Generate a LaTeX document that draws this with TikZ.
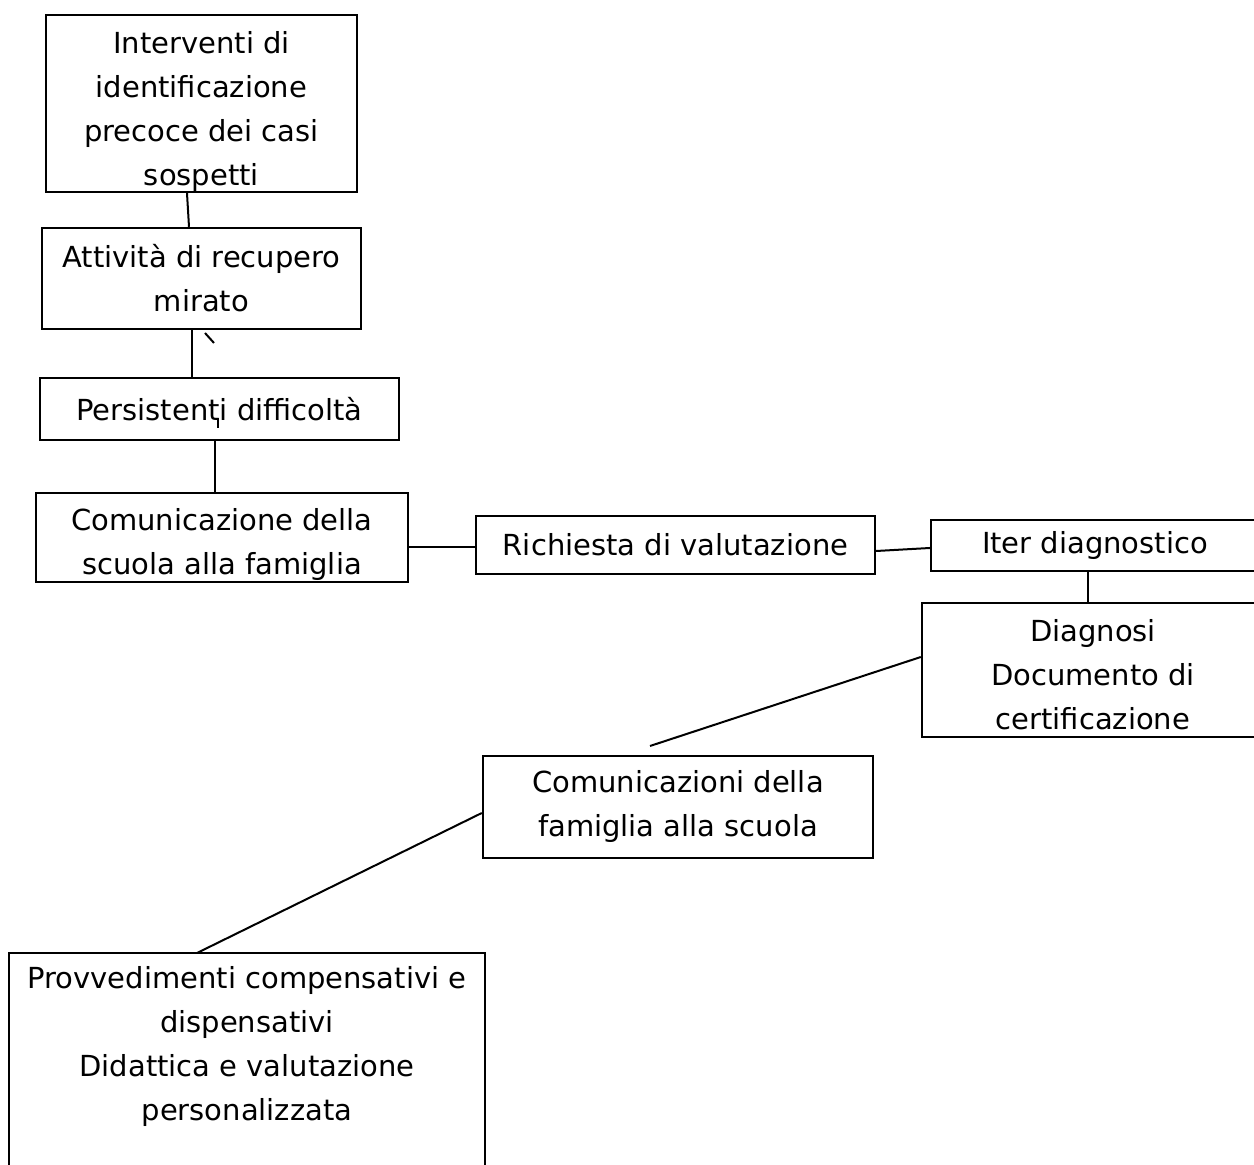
\documentclass[tikz,border=0pt]{standalone}
\usepackage{fontspec}
\setmainfont{DejaVu Sans}
\usetikzlibrary{positioning,calc}

\begin{document}
\begin{tikzpicture}[x=0.5pt,y=-0.5pt,
  box/.style={draw,line width=1.2pt,align=center,inner sep=0pt,
    font=\fontsize{14.5}{22}\selectfont},
  link/.style={line width=1pt}]
\useasboundingbox (0,0) rectangle (1254,1165);
\clip (0,0) rectangle (1254,1165);
% boxes
\node[box,minimum width=155.5pt,minimum height=88.5pt] (interv) at (201.5,103.5)
  {\rule{0pt}{19pt}Interventi di\\identificazione\\precoce dei casi\\sospetti};
\node[box,minimum width=159.5pt,minimum height=50.5pt] (attiv) at (201.5,278.5)
  {Attività di recupero\\mirato};
\node[box,minimum width=179.5pt,minimum height=31pt] (persist) at (219.5,409)
  {Persistenti difficoltà};
\node[box,minimum width=186pt,minimum height=44.5pt] (scuolafam) at (222,537.5)
  {\rule{0pt}{18pt}Comunicazione della\\scuola alla famiglia};
\node[box,minimum width=199.5pt,minimum height=29pt] (richiesta) at (675.5,545)
  {Richiesta di valutazione};
\node[box,minimum width=164pt,minimum height=25.5pt] (iter) at (1095,545.5)
  {Iter diagnostico};
\node[box,minimum width=171pt,minimum height=67pt] (diagnosi) at (1093,670)
  {\rule{0pt}{16pt}Diagnosi\\Documento di\\certificazione};
\node[box,minimum width=195pt,minimum height=51pt] (famscuola) at (678,807)
  {Comunicazioni della\\famiglia alla scuola};
\node[box,draw=none,anchor=north,minimum width=237pt,inner ysep=6pt] (provv) at (247,953)
  {Provvedimenti compensativi e\\dispensativi\\Didattica e valutazione\\personalizzata};
\draw[line width=1.2pt] (provv.north west) rectangle ($(provv.north east)+(0,240)$);
% connectors
\coordinate (tickA) at (205,333);
\coordinate (tickB) at (214,343);
\coordinate (tickC) at (218,418);
\coordinate (tickD) at (218,428);
\coordinate (freeend) at (650,746);
\draw[link] ($(interv.south)+(-14.5,0)$) -- ($(attiv.north)+(-12.5,0)$);
\draw[link] ($(attiv.south)+(-9.5,0)$) -- ($(persist.north)+(-27.5,0)$);
\draw[link] (tickA) -- (tickB);
\draw[line width=0.6pt] (tickC) -- (tickD);
\draw[link] ($(persist.south)+(-4.5,0)$) -- ($(scuolafam.north)+(-7,0)$);
\draw[link] ($(scuolafam.east)+(0,9.5)$) -- ($(richiesta.west)+(0,2)$);
\draw[link] ($(richiesta.east)+(0,6)$) -- ($(iter.west)+(0,2.5)$);
\draw[link] ($(iter.south)+(-7,0)$) -- ($(diagnosi.north)+(-5,0)$);
\draw[link] ($(diagnosi.west)+(0,-13)$) -- (freeend);
\draw[link] ($(famscuola.west)+(0,6)$) -- ($(provv.north)+(-50,0)$);
\end{tikzpicture}
\end{document}
